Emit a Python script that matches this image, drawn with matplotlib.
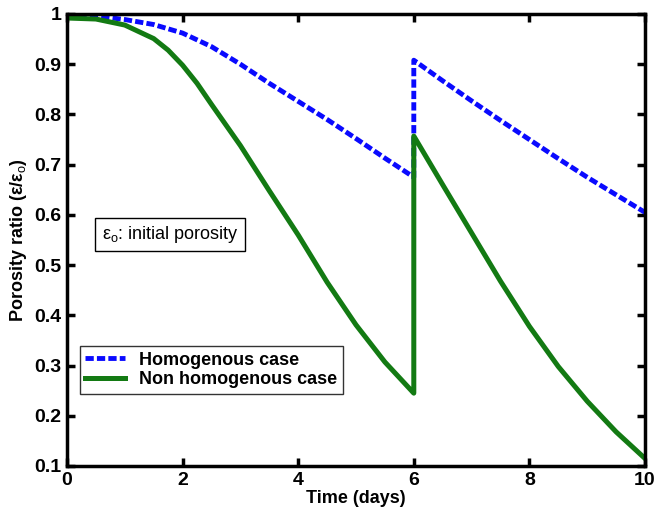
import matplotlib
matplotlib.use("Agg")
import matplotlib.pyplot as plt

# values (jump at day 6 -> repeated x)
t_homog = [0, 0.5, 1, 1.5, 2, 2.5, 3, 3.5, 4, 4.5, 5, 5.5, 6,
           6, 6.5, 7, 7.5, 8, 8.5, 9, 9.5, 10]
homog = [0.998, 0.996, 0.989, 0.979, 0.962, 0.935, 0.9, 0.862, 0.826,
         0.79, 0.752, 0.713, 0.675,
         0.908, 0.867, 0.827, 0.788, 0.75, 0.712, 0.675, 0.64, 0.605]

t_nonhomog = [0, 0.5, 1, 1.5, 1.75, 2, 2.25, 2.5, 2.75, 3, 3.5, 4, 4.5,
              5, 5.5, 6,
              6, 6.5, 7, 7.5, 8, 8.5, 9, 9.5, 10]
nonhomog = [0.992, 0.99, 0.978, 0.951, 0.928, 0.898, 0.862, 0.82, 0.779,
            0.738, 0.648, 0.56, 0.466, 0.381, 0.307, 0.245,
            0.757, 0.66, 0.564, 0.468, 0.378, 0.298, 0.229, 0.168, 0.115]

x_ticks = [0, 2, 4, 6, 8, 10]
y_ticks = [0.1, 0.2, 0.3, 0.4, 0.5, 0.6, 0.7, 0.8, 0.9, 1]
y_ticklabels = ["0.1", "0.2", "0.3", "0.4", "0.5", "0.6", "0.7", "0.8", "0.9", "1"]

plt.rcParams["font.family"] = ["Liberation Sans", "DejaVu Sans"]
plt.rcParams["mathtext.fontset"] = "custom"
plt.rcParams["mathtext.rm"] = "Liberation Sans"

fig = plt.figure(figsize=(6.57, 5.16), dpi=100)
ax = fig.add_axes([67 / 657, 50 / 516, 578 / 657, 452 / 516])

ax.plot(t_homog, homog, color="#0a0aff", linewidth=3.5, dashes=(1.7, 0.65),
        label="Homogenous case")
ax.plot(t_nonhomog, nonhomog, color="#137a13", linewidth=3.6,
        label="Non homogenous case")

ax.set_xlim(0, 10)
ax.set_ylim(0.1, 1)
ax.set_xticks(x_ticks)
ax.set_yticks(y_ticks)
ax.set_yticklabels(y_ticklabels)
ax.tick_params(direction="in", length=6, width=2.5, top=True, right=True,
               labelsize=14, pad=4)
for lbl in ax.get_xticklabels() + ax.get_yticklabels():
    lbl.set_fontweight("bold")
for sp in ax.spines.values():
    sp.set_linewidth(2.5)

ax.set_xlabel("Time (days)", fontsize=13, fontweight="bold", labelpad=1)
ax.set_ylabel("Porosity ratio (ε/ε$_{\\rm o}$)",
              fontsize=13, fontweight="bold", labelpad=4)

ax.text(0.6, 0.561, "ε$_{\\rm o}$: initial porosity", fontsize=13,
        va="center", ha="left",
        bbox=dict(boxstyle="square,pad=0.35", fc="white", ec="black", lw=1))

leg = ax.legend(loc="upper left", bbox_to_anchor=(0.022, 0.265),
                prop={"weight": "bold", "size": 13}, frameon=True, fancybox=False,
                edgecolor="black", handlelength=2.2, borderpad=0.3,
                labelspacing=0.15, handletextpad=0.8, borderaxespad=0)
leg.get_frame().set_linewidth(1)

fig.savefig("out.png", dpi=100)
